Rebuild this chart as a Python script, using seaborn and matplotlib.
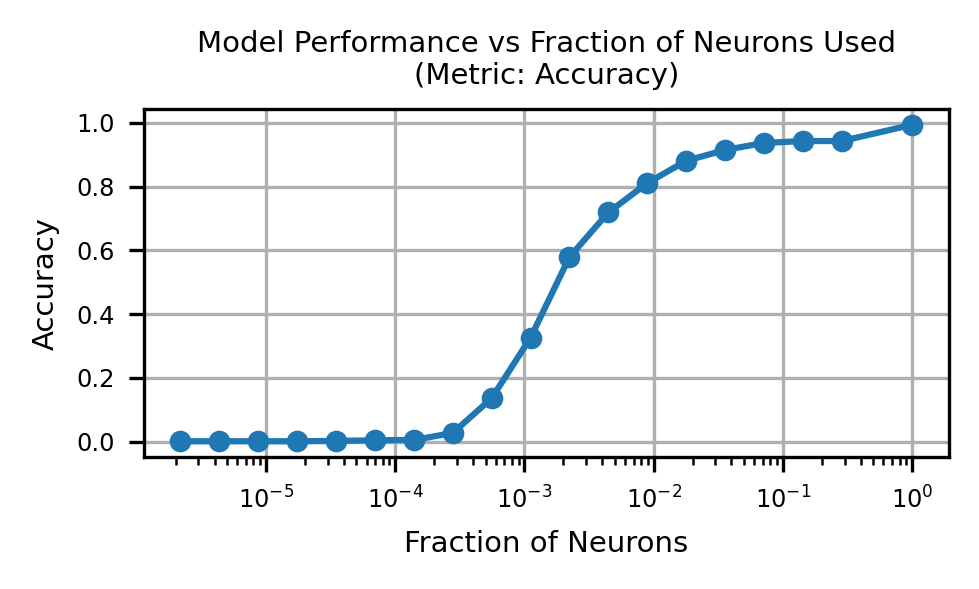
import matplotlib
matplotlib.use("Agg")
import matplotlib.pyplot as plt
import seaborn as sns
import pandas as pd

# fraction of neurons kept and the accuracy
fractions = [2.180e-6, 4.360e-6, 8.719e-6, 1.744e-5, 3.487e-5, 6.975e-5,
             1.395e-4, 2.790e-4, 5.580e-4, 1.116e-3, 2.232e-3, 4.464e-3,
             8.929e-3, 0.01786, 0.03571, 0.07143, 0.1429, 0.2857, 1.0]
accuracy = [0.001, 0.001, 0.001, 0.001, 0.002, 0.004,
            0.005, 0.027, 0.136, 0.326, 0.579, 0.719,
            0.811, 0.881, 0.915, 0.937, 0.943, 0.943, 0.994]

df = pd.DataFrame({"fraction": fractions, "accuracy": accuracy})

fig, ax = plt.subplots(figsize=(9.79 / 3, 5.89 / 3), dpi=300)
fig.subplots_adjust(left=0.147, right=0.969, top=0.815, bottom=0.224)

sns.lineplot(data=df, x="fraction", y="accuracy", marker="o", color="#1f77b4",
             linewidth=1.5, markersize=4.4, markeredgewidth=0.8,
             markeredgecolor="#1f77b4", ax=ax)

ax.set_xscale("log")
ax.grid(True, color="#b0b0b0", linewidth=0.8)
ax.set_axisbelow(True)
ax.set_title("Model Performance vs Fraction of Neurons Used\n(Metric: Accuracy)",
             fontsize=7)
ax.set_xlabel("Fraction of Neurons", fontsize=7)
ax.set_ylabel("Accuracy", fontsize=7)
ax.tick_params(labelsize=5.8)

fig.savefig("out.png", dpi=300)
